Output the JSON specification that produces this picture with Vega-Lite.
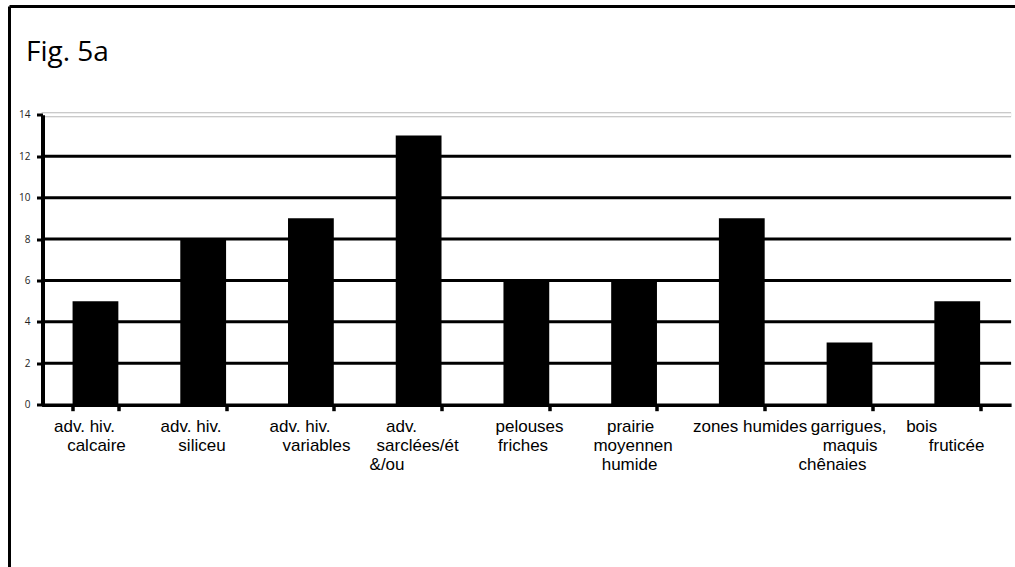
{
  "$schema": "https://vega.github.io/schema/vega-lite/v6.json",
  "width": 1005.5,
  "height": 560.5,
  "autosize": {"type": "none"},
  "padding": {"left": 9.5, "top": 6.5, "right": 0, "bottom": 0},
  "background": "white",
  "config": {
    "view": {"stroke": "black", "strokeWidth": 3, "strokeDash": [1005.5, 1566, 560.5, 0]}
  },
  "title": {
    "text": "Fig. 5a",
    "anchor": "start",
    "frame": "group",
    "font": "Open Sans",
    "fontSize": 28,
    "fontWeight": "normal",
    "color": "black",
    "baseline": "alphabetic",
    "offset": 0,
    "dx": 16.5,
    "dy": 82
  },
  "datasets": {
    "bars": [
      {"cat": "adv. hiv.|calcaire", "n": 5},
      {"cat": "adv. hiv.|siliceu", "n": 8},
      {"cat": "adv. hiv.|variables", "n": 9},
      {"cat": "adv.|sarclées/ét|&/ou", "n": 13},
      {"cat": "pelouses|friches", "n": 6},
      {"cat": "prairie|moyennen|humide", "n": 6},
      {"cat": "zones humides", "n": 9},
      {"cat": "garrigues,|maquis|chênaies", "n": 3},
      {"cat": "bois|fruticée", "n": 5}
    ],
    "grid": [{"v": 2}, {"v": 4}, {"v": 6}, {"v": 8}, {"v": 10}, {"v": 12}, {"v": 14}]
  },
  "resolve": {"scale": {"x": "independent"}, "axis": {"x": "independent"}},
  "layer": [
    {
      "data": {"name": "grid"},
      "mark": {"type": "rule"},
      "encoding": {
        "y": {"field": "v", "type": "quantitative", "scale": {"domain": [0, 14], "range": [398.2, 108.3], "nice": false},
          "axis": {"orient": "left", "offset": -33, "title": null, "grid": false, "values": [0, 2, 4, 6, 8, 10, 12, 14], "domainColor": "black", "domainWidth": 4, "tickColor": "black", "tickWidth": 3, "tickSize": 6, "labelFont": "Open Sans", "labelFontSize": 10, "labelColor": "#222", "labelPadding": 6.5, "zindex": 1}},
        "x": {"datum": 0, "type": "quantitative", "scale": {"domain": [0, 1], "range": [32.1, 1001.6]}, "axis": null},
        "x2": {"datum": 1},
        "color": {"condition": {"test": "datum.v == 14", "value": "#b8b8b8"}, "value": "black"},
        "strokeWidth": {"condition": {"test": "datum.v == 14", "value": 5}, "value": 3}
      }
    },
    {
      "data": {"name": "grid"},
      "transform": [{"filter": "datum.v == 14"}],
      "mark": {"type": "rule", "color": "white", "strokeWidth": 3},
      "encoding": {
        "y": {"field": "v", "type": "quantitative", "scale": {"domain": [0, 14], "range": [398.2, 108.3], "nice": false},
          "axis": {"orient": "left", "offset": -33, "title": null, "grid": false, "values": [0, 2, 4, 6, 8, 10, 12, 14], "domainColor": "black", "domainWidth": 4, "tickColor": "black", "tickWidth": 3, "tickSize": 6, "labelFont": "Open Sans", "labelFontSize": 10, "labelColor": "#222", "labelPadding": 6.5, "zindex": 1}},
        "x": {"datum": 0, "type": "quantitative", "scale": {"domain": [0, 1], "range": [32.1, 1001.6]}, "axis": null},
        "x2": {"datum": 1}
      }
    },
    {
      "data": {"name": "bars"},
      "mark": {"type": "bar", "color": "black"},
      "encoding": {
        "x": {
          "field": "cat",
          "type": "nominal",
          "sort": null,
          "scale": {"type": "band", "range": [32.1, 1001.6], "paddingInner": 0.575, "paddingOuter": 0.2875},
          "axis": {
            "orient": "bottom",
            "offset": -162.3,
            "title": null,
            "grid": false,
            "domainColor": "black",
            "domainWidth": 3.5,
            "tickColor": "black",
            "tickWidth": 3.5,
            "tickSize": 6,
            "tickBand": "extent",
            "labelFont": "Liberation Sans",
            "labelFontSize": 17,
            "labelColor": "black",
            "labelPadding": 7.5,
            "labelOverlap": false,
            "labelBound": false,
            "labelLimit": 400,
            "labelAngle": 0,
            "zindex": 1,
            "labelExpr": "isValid(datum.value) ? split(datum.value, '|')[0] : ''",
            "labelOffset": {
              "condition": [
                {"test": "datum.value == 'adv. hiv.|calcaire'", "value": -11.5},
                {"test": "datum.value == 'adv. hiv.|siliceu'", "value": -12.7},
                {"test": "datum.value == 'adv. hiv.|variables'", "value": -11.4},
                {"test": "datum.value == 'adv.|sarclées/ét|&/ou'", "value": -17.6},
                {"test": "datum.value == 'pelouses|friches'", "value": 2.7},
                {"test": "datum.value == 'prairie|moyennen|humide'", "value": -4},
                {"test": "datum.value == 'zones humides'", "value": 7.8},
                {"test": "datum.value == 'garrigues,|maquis|chênaies'", "value": -1.4},
                {"test": "datum.value == 'bois|fruticée'", "value": -36}
              ],
              "value": 0
            }
          }
        },
        "y": {
          "field": "n",
          "type": "quantitative",
          "scale": {"domain": [0, 14], "range": [398.2, 108.3], "nice": false},
          "axis": {"orient": "left", "offset": -33, "title": null, "grid": false, "values": [0, 2, 4, 6, 8, 10, 12, 14], "domainColor": "black", "domainWidth": 4, "tickColor": "black", "tickWidth": 3, "tickSize": 6, "labelFont": "Open Sans", "labelFontSize": 10, "labelColor": "#222", "labelPadding": 6.5, "zindex": 1}
        }
      }
    },
    {
      "data": {"name": "bars"},
      "mark": {"type": "bar", "color": "black", "opacity": 0},
      "encoding": {
        "x": {
          "field": "cat",
          "type": "nominal",
          "sort": null,
          "scale": {"type": "band", "range": [32.1, 1001.6], "paddingInner": 0.575, "paddingOuter": 0.2875},
          "axis": {
            "orient": "bottom",
            "offset": -162.3,
            "title": null,
            "grid": false,
            "domain": false,
            "tickOpacity": 0,
            "tickSize": 6,
            "labelFont": "Liberation Sans",
            "labelFontSize": 17,
            "labelColor": "black",
            "labelPadding": 26.5,
            "labelOverlap": false,
            "labelBound": false,
            "labelLimit": 400,
            "labelAngle": 0,
            "zindex": 1,
            "labelExpr": "isValid(datum.value) && length(split(datum.value, '|')) > 1 ? split(datum.value, '|')[1] : ''",
            "labelOffset": {
              "condition": [
                {"test": "datum.value == 'adv. hiv.|calcaire'", "value": 1},
                {"test": "datum.value == 'adv. hiv.|siliceu'", "value": -1.2},
                {"test": "datum.value == 'adv. hiv.|variables'", "value": 5.6},
                {"test": "datum.value == 'adv.|sarclées/ét|&/ou'", "value": -1},
                {"test": "datum.value == 'pelouses|friches'", "value": -3.3},
                {"test": "datum.value == 'prairie|moyennen|humide'", "value": -1},
                {"test": "datum.value == 'garrigues,|maquis|chênaies'", "value": 0.6},
                {"test": "datum.value == 'bois|fruticée'", "value": -0.6}
              ],
              "value": 0
            }
          }
        },
        "y": {
          "field": "n",
          "type": "quantitative",
          "scale": {"domain": [0, 14], "range": [398.2, 108.3], "nice": false},
          "axis": {"orient": "left", "offset": -33, "title": null, "grid": false, "values": [0, 2, 4, 6, 8, 10, 12, 14], "domainColor": "black", "domainWidth": 4, "tickColor": "black", "tickWidth": 3, "tickSize": 6, "labelFont": "Open Sans", "labelFontSize": 10, "labelColor": "#222", "labelPadding": 6.5, "zindex": 1}
        }
      }
    },
    {
      "data": {"name": "bars"},
      "mark": {"type": "bar", "color": "black", "opacity": 0},
      "encoding": {
        "x": {
          "field": "cat",
          "type": "nominal",
          "sort": null,
          "scale": {"type": "band", "range": [32.1, 1001.6], "paddingInner": 0.575, "paddingOuter": 0.2875},
          "axis": {
            "orient": "bottom",
            "offset": -162.3,
            "title": null,
            "grid": false,
            "domain": false,
            "tickOpacity": 0,
            "tickSize": 6,
            "labelFont": "Liberation Sans",
            "labelFontSize": 17,
            "labelColor": "black",
            "labelPadding": 45.5,
            "labelOverlap": false,
            "labelBound": false,
            "labelLimit": 400,
            "labelAngle": 0,
            "zindex": 1,
            "labelExpr": "isValid(datum.value) && length(split(datum.value, '|')) > 2 ? split(datum.value, '|')[2] : ''",
            "labelOffset": {
              "condition": [
                {"test": "datum.value == 'adv.|sarclées/ét|&/ou'", "value": -31.6},
                {"test": "datum.value == 'prairie|moyennen|humide'", "value": -4.5},
                {"test": "datum.value == 'garrigues,|maquis|chênaies'", "value": -17}
              ],
              "value": 0
            }
          }
        },
        "y": {
          "field": "n",
          "type": "quantitative",
          "scale": {"domain": [0, 14], "range": [398.2, 108.3], "nice": false},
          "axis": {"orient": "left", "offset": -33, "title": null, "grid": false, "values": [0, 2, 4, 6, 8, 10, 12, 14], "domainColor": "black", "domainWidth": 4, "tickColor": "black", "tickWidth": 3, "tickSize": 6, "labelFont": "Open Sans", "labelFontSize": 10, "labelColor": "#222", "labelPadding": 6.5, "zindex": 1}
        }
      }
    }
  ]
}
